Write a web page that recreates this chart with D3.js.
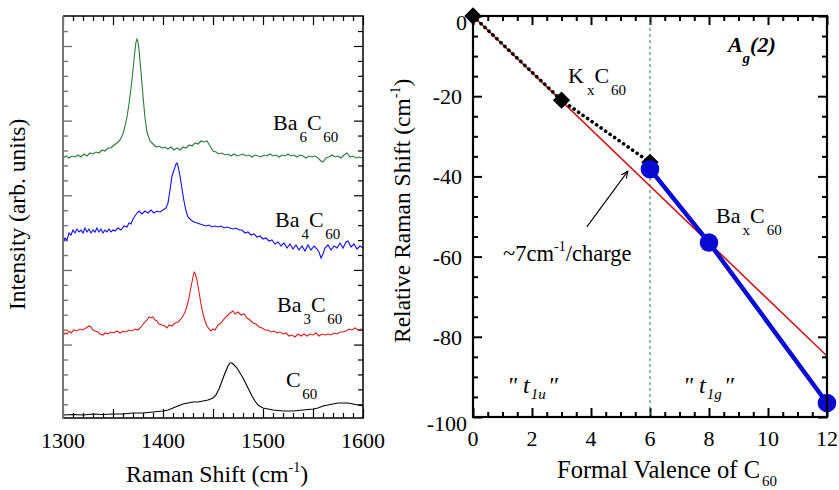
<!DOCTYPE html>
<html>
<head>
<meta charset="utf-8">
<script src="https://cdn.jsdelivr.net/npm/d3@7"></script>
<style>
  body { margin: 0; background: #fff; }
  text { font-family: "Liberation Serif", "Times New Roman", serif; fill: #000; }
</style>
</head>
<body>
<svg id="chart" width="839" height="490" font-family="Liberation Serif"></svg>
<script>
// ---- left panel: Raman spectra [shift cm-1, intensity arb. units] ----
const ba6c60 = [[1300,260],[1303,262],[1306,260],[1309,262],[1312,261],[1315,263],[1318,261],[1321,264],[1324,262],[1327,265],[1330,264],[1333,266],[1336,265],[1339,268],[1342,267],[1345,270],[1348,270],[1351,273],[1354,275],[1357,278],[1360,284],[1362,292],[1364,301],[1366,314],[1368,330],[1370,348],[1372,368],[1373,376],[1374,379],[1375,376],[1376,368],[1378,346],[1380,322],[1382,300],[1384,286],[1387,277],[1390,274],[1393,271],[1396,272],[1399,270],[1402,271],[1405,269],[1408,271],[1411,268],[1414,270],[1417,268],[1420,271],[1423,270],[1426,273],[1429,272],[1432,275],[1435,274],[1438,277],[1441,276],[1444,277],[1447,272],[1450,267],[1453,266],[1456,264],[1459,265],[1462,263],[1465,264],[1468,262],[1471,264],[1474,262],[1477,263],[1480,264],[1483,262],[1486,263],[1489,261],[1492,263],[1495,262],[1498,261],[1501,263],[1504,262],[1507,264],[1510,262],[1513,263],[1516,261],[1519,263],[1522,262],[1525,264],[1528,262],[1531,263],[1534,261],[1537,263],[1540,262],[1543,260],[1546,262],[1549,261],[1552,262],[1555,260],[1558,257],[1560,256],[1563,260],[1566,261],[1569,263],[1572,261],[1575,262],[1578,260],[1581,263],[1584,265],[1587,261],[1590,262],[1593,260],[1596,261],[1600,260]];

const ba4c60 = [[1300,175],[1302,180],[1304,178],[1306,185],[1308,183],[1310,188],[1312,185],[1314,189],[1316,186],[1318,188],[1320,185],[1322,190],[1324,186],[1326,189],[1328,185],[1330,188],[1332,186],[1334,190],[1336,186],[1338,189],[1340,185],[1342,188],[1344,186],[1346,189],[1348,186],[1350,188],[1352,187],[1355,190],[1358,188],[1361,192],[1364,191],[1366,195],[1368,194],[1370,199],[1372,202],[1374,205],[1376,207],[1379,204],[1382,207],[1385,205],[1388,208],[1391,205],[1394,207],[1397,206],[1400,208],[1403,210],[1405,215],[1407,228],[1409,242],[1411,248],[1413,254],[1414,255],[1415,252],[1417,242],[1419,229],[1421,217],[1423,207],[1425,201],[1428,198],[1431,196],[1434,195],[1437,194],[1440,193],[1443,192],[1446,193],[1449,191],[1452,192],[1455,191],[1458,192],[1461,190],[1464,191],[1467,190],[1470,189],[1473,190],[1476,188],[1479,188],[1482,185],[1485,186],[1488,183],[1491,184],[1494,181],[1497,182],[1500,179],[1503,180],[1506,177],[1509,178],[1512,174],[1515,176],[1518,172],[1521,175],[1524,170],[1527,174],[1530,169],[1533,173],[1536,168],[1539,172],[1542,167],[1545,173],[1548,168],[1551,172],[1554,169],[1556,166],[1558,160],[1560,164],[1562,170],[1565,173],[1568,168],[1571,172],[1574,170],[1577,175],[1580,170],[1583,176],[1585,177],[1588,171],[1591,174],[1594,169],[1597,172],[1600,170]];

const ba3c60 = [[1300,82],[1302,85],[1304,84],[1306,87],[1308,85],[1311,88],[1314,87],[1317,89],[1320,88],[1323,90],[1326,92],[1328,91],[1330,88],[1332,87],[1335,86],[1337,84],[1340,83],[1342,85],[1345,84],[1348,86],[1351,85],[1354,87],[1357,85],[1360,87],[1363,86],[1366,88],[1369,87],[1372,89],[1375,88],[1378,91],[1381,95],[1384,98],[1386,101],[1388,100],[1390,101],[1392,98],[1394,97],[1396,94],[1399,93],[1402,92],[1404,90],[1406,93],[1409,92],[1412,95],[1415,96],[1418,99],[1420,102],[1422,106],[1424,112],[1426,120],[1428,131],[1430,141],[1431,146],[1432,145],[1434,138],[1436,126],[1438,114],[1440,104],[1442,97],[1444,92],[1446,89],[1448,87],[1450,89],[1452,88],[1455,93],[1458,95],[1461,99],[1464,102],[1467,105],[1470,107],[1472,104],[1475,106],[1478,103],[1481,104],[1484,100],[1487,98],[1490,95],[1493,94],[1496,91],[1499,90],[1502,88],[1505,88],[1508,86],[1511,87],[1514,85],[1517,86],[1520,84],[1523,85],[1526,82],[1529,83],[1532,81],[1535,84],[1538,82],[1541,84],[1544,82],[1547,84],[1550,83],[1553,85],[1556,82],[1559,84],[1562,83],[1565,84],[1568,83],[1571,85],[1574,84],[1577,86],[1580,86],[1583,87],[1586,89],[1589,88],[1592,90],[1595,88],[1598,89],[1600,88]];

const c60 = [[1300,3],[1310,3.5],[1320,3],[1330,4],[1340,3.5],[1350,4],[1360,4],[1370,5],[1380,5],[1390,6],[1400,7],[1405,8],[1410,10],[1415,12],[1420,14],[1425,15],[1430,16],[1435,16],[1440,17],[1445,18],[1450,20],[1453,23],[1456,29],[1459,37],[1462,45],[1465,52],[1467,55],[1469,55],[1471,53],[1474,50],[1477,45],[1480,40],[1483,34],[1486,28],[1489,22],[1492,17],[1495,13],[1500,10],[1505,9],[1510,8],[1520,7],[1530,7],[1540,8],[1550,9],[1555,10],[1560,12],[1565,13],[1570,14],[1575,15],[1580,15],[1585,15],[1590,14],[1595,13],[1600,12]];

const shiftTicks = [1300, 1400, 1500, 1600];

// ---- right panel: relative shift vs formal valence ----
const valenceK = [0, 3, 6];
const shiftK = [0, -21, -36.5];
const valenceBa = [6, 8, 12];
const shiftBa = [-38.2, -56.5, -96.5];
const fitValence = [0, 12];
const fitShift = [0, -84.8];
const valenceTicks = [0, 2, 4, 6, 8, 10, 12];
const relShiftTicks = [0, -20, -40, -60, -80, -100];

const svg = d3.select("#chart");

function inTicks(axisFn, scale, values, size, transform, color, width) {
  svg.append("g").attr("transform", transform)
    .call(axisFn(scale).tickValues(values).tickSize(-size).tickFormat(""))
    .call(a => a.select(".domain").remove())
    .call(a => a.selectAll("line").attr("stroke", color).attr("stroke-width", width));
}

// ================= LEFT PANEL =================
const L = { left: 63, right: 363, top: 16, bottom: 418 };
const xL = d3.scaleLinear().domain([1300, 1600]).range([L.left, L.right]);
const yL = d3.scaleLinear().domain([0, 402]).range([L.bottom, L.top]);

const xMinor = d3.range(1300, 1601, 10).filter(v => v % 50 !== 0);
const xMajor = d3.range(1300, 1601, 50);
const yAll = d3.range(26).map(k => 13.7 + k * 14.93);
const yMinor = yAll.filter((v, k) => k % 5 !== 4);
const yMajor = yAll.filter((v, k) => k % 5 === 4);

inTicks(d3.axisBottom, xL, xMinor, 5, `translate(0,${L.bottom})`, "#000", 1.2);
inTicks(d3.axisBottom, xL, xMajor, 9, `translate(0,${L.bottom})`, "#000", 1.2);
inTicks(d3.axisTop, xL, xMinor, 5, `translate(0,${L.top})`, "#000", 1.2);
inTicks(d3.axisTop, xL, xMajor, 9, `translate(0,${L.top})`, "#000", 1.2);
inTicks(d3.axisLeft, yL, yMinor, 5, `translate(${L.left},0)`, "#777", 1.4);
inTicks(d3.axisLeft, yL, yMajor, 9, `translate(${L.left},0)`, "#777", 1.4);
inTicks(d3.axisRight, yL, yMinor, 5, `translate(${L.right},0)`, "#000", 1.2);
inTicks(d3.axisRight, yL, yMajor, 9, `translate(${L.right},0)`, "#000", 1.2);

const lineL = d3.line().x(d => xL(d[0])).y(d => yL(d[1]));
const spectra = [
  { data: c60, color: "#000000" },
  { data: ba3c60, color: "#d62020" },
  { data: ba4c60, color: "#1010f0" },
  { data: ba6c60, color: "#2b7a3c" }
];
svg.append("g").selectAll("path").data(spectra).join("path")
  .attr("d", d => lineL(d.data))
  .attr("fill", "none")
  .attr("stroke", d => d.color)
  .attr("stroke-width", 1.1);

// frame
svg.append("path")
  .attr("d", `M${L.left},${L.top}H${L.right}V${L.bottom}H${L.left}`)
  .attr("fill", "none").attr("stroke", "#000").attr("stroke-width", 1.5);
svg.append("line")
  .attr("x1", L.left).attr("x2", L.left).attr("y1", L.top).attr("y2", L.bottom + 0.75)
  .attr("stroke", "#777").attr("stroke-width", 2);

svg.append("g").selectAll("text").data(shiftTicks).join("text")
  .attr("x", d => xL(d)).attr("y", 448)
  .attr("text-anchor", "middle").attr("font-size", 22)
  .text(d => d);

// compound labels
const specLabels = [
  { x: 1510, y: 288, pre: "Ba", n: "6" },
  { x: 1512, y: 191, pre: "Ba", n: "4" },
  { x: 1514, y: 106, pre: "Ba", n: "3" },
  { x: 1523, y: 31, pre: "", n: "" }
];
specLabels.forEach(l => {
  const t = svg.append("text").attr("x", xL(l.x)).attr("y", yL(l.y)).attr("font-size", 22);
  if (l.pre) {
    t.append("tspan").text(l.pre);
    t.append("tspan").attr("font-size", 15).attr("dx", 2).attr("dy", 12).text(l.n);
    t.append("tspan").attr("dy", -12).text("C");
  } else {
    t.append("tspan").text("C");
  }
  t.append("tspan").attr("font-size", 15).attr("dx", 1.5).attr("dy", 12).text("60");
});

// axis titles
const tL = svg.append("text").attr("x", 126).attr("y", 482).attr("font-size", 23.8);
tL.append("tspan").text("Raman Shift (cm");
tL.append("tspan").attr("font-size", 14).attr("dy", -10).text("-1");
tL.append("tspan").attr("dy", 10).text(")");

svg.append("text").attr("transform", "translate(25,310) rotate(-90)")
  .attr("font-size", 23.5).text("Intensity (arb. units)");

// ================= RIGHT PANEL =================
const R = { left: 473, right: 827, top: 16, bottom: 417 };
const xR = d3.scaleLinear().domain([0, 12]).range([R.left, R.right]);
const yR = d3.scaleLinear().domain([-100, 0]).range([R.bottom, R.top]);

const vMinor = d3.range(0, 12.01, 0.5).filter(v => v % 2 !== 0);
const sMinor = d3.range(-100, 0.01, 5).filter(v => v % 20 !== 0);
inTicks(d3.axisBottom, xR, vMinor, 5, `translate(0,${R.bottom})`, "#000", 2);
inTicks(d3.axisBottom, xR, valenceTicks, 9, `translate(0,${R.bottom})`, "#000", 2);
inTicks(d3.axisTop, xR, vMinor, 5, `translate(0,${R.top})`, "#000", 2);
inTicks(d3.axisTop, xR, valenceTicks, 9, `translate(0,${R.top})`, "#000", 2);
inTicks(d3.axisLeft, yR, sMinor, 5, `translate(${R.left},0)`, "#000", 2);
inTicks(d3.axisLeft, yR, relShiftTicks, 9, `translate(${R.left},0)`, "#000", 2);
inTicks(d3.axisRight, yR, sMinor, 5, `translate(${R.right},0)`, "#000", 2);
inTicks(d3.axisRight, yR, relShiftTicks, 9, `translate(${R.right},0)`, "#000", 2);

// band boundary
svg.append("line")
  .attr("x1", xR(6)).attr("x2", xR(6)).attr("y1", yR(0)).attr("y2", yR(-100))
  .attr("stroke", "#5b8f6c").attr("stroke-width", 1.2).attr("stroke-dasharray", "3,3");

const lineR = d3.line().x(d => xR(d[0])).y(d => yR(d[1]));
const fitPts = d3.zip(fitValence, fitShift);
const kPts = d3.zip(valenceK, shiftK);
const baPts = d3.zip(valenceBa, shiftBa);

svg.append("path").attr("d", lineR(fitPts))
  .attr("fill", "none").attr("stroke", "#cc1a1a").attr("stroke-width", 1.6);
svg.append("path").attr("d", lineR(kPts))
  .attr("fill", "none").attr("stroke", "#000").attr("stroke-width", 3.6)
  .attr("stroke-linecap", "round").attr("stroke-dasharray", "0.1,5.4");
svg.append("g").selectAll("path").data(kPts).join("path")
  .attr("d", d3.symbol(d3.symbolSquare, 150)())
  .attr("transform", d => `translate(${xR(d[0])},${yR(d[1])}) rotate(45)`)
  .attr("fill", "#000");
svg.append("path").attr("d", lineR(baPts))
  .attr("fill", "none").attr("stroke", "#0a0ad2").attr("stroke-width", 4.5);
svg.append("g").selectAll("circle").data(baPts).join("circle")
  .attr("cx", d => xR(d[0])).attr("cy", d => yR(d[1])).attr("r", 9.3)
  .attr("fill", "#0a0ad2");

// frame
svg.append("rect")
  .attr("x", R.left).attr("y", R.top)
  .attr("width", R.right - R.left).attr("height", R.bottom - R.top)
  .attr("fill", "none").attr("stroke", "#000").attr("stroke-width", 2.2);

// tick labels
svg.append("g").selectAll("text").data(valenceTicks).join("text")
  .attr("x", d => xR(d)).attr("y", 446)
  .attr("text-anchor", "middle").attr("font-size", 22)
  .text(d => d);
svg.append("g").selectAll("text").data(relShiftTicks).join("text")
  .attr("x", d => (d === 0 || d === -100) ? R.left - 6 : R.left - 11)
  .attr("y", d => yR(d) + ((d === 0 || d === -100) ? 13.5 : 8))
  .attr("text-anchor", "end").attr("font-size", 22)
  .text(d => d);

// annotations
const kLab = svg.append("text").attr("x", xR(3.22)).attr("y", yR(-16.7)).attr("font-size", 22);
kLab.append("tspan").text("K");
kLab.append("tspan").attr("font-size", 15).attr("dx", 3).attr("dy", 12).text("x");
kLab.append("tspan").attr("dy", -12).text("C");
kLab.append("tspan").attr("font-size", 15).attr("dx", 2).attr("dy", 12).text("60");

const bLab = svg.append("text").attr("x", xR(8.24)).attr("y", yR(-51.6)).attr("font-size", 22);
bLab.append("tspan").text("Ba");
bLab.append("tspan").attr("font-size", 15).attr("dx", 2).attr("dy", 12).text("x");
bLab.append("tspan").attr("dy", -12).text("C");
bLab.append("tspan").attr("font-size", 15).attr("dx", 2).attr("dy", 12).text("60");

const slope = svg.append("text").attr("x", xR(1.02)).attr("y", yR(-61.1)).attr("font-size", 22.5);
slope.append("tspan").text("~7cm");
slope.append("tspan").attr("font-size", 14).attr("dy", -10).text("-1");
slope.append("tspan").attr("dy", 10).text("/charge");

const ag = svg.append("text").attr("x", xR(8.64)).attr("y", yR(-9))
  .attr("font-size", 22).attr("font-weight", "bold").attr("font-style", "italic");
ag.append("tspan").text("A");
ag.append("tspan").attr("font-size", 15).attr("dx", 0).attr("dy", 11).text("g");
ag.append("tspan").attr("dy", -11).attr("dx", 0).text("(2)");

svg.append("defs").append("marker")
  .attr("id", "arr").attr("viewBox", "0 0 10 10").attr("refX", 9).attr("refY", 5)
  .attr("markerWidth", 7).attr("markerHeight", 7).attr("orient", "auto")
  .append("path").attr("d", "M0,1L9,5L0,9").attr("fill", "none").attr("stroke", "#000").attr("stroke-width", 1.4);
svg.append("line")
  .attr("x1", xR(3.86)).attr("y1", yR(-52.6)).attr("x2", xR(5.25)).attr("y2", yR(-38.7))
  .attr("stroke", "#000").attr("stroke-width", 1.1).attr("marker-end", "url(#arr)");

[{ v: 1.15, sub: "1u" }, { v: 7.12, sub: "1g" }].forEach(b => {
  const t = svg.append("text").attr("x", xR(b.v)).attr("y", yR(-94)).attr("font-size", 24)
    .attr("font-style", "italic");
  t.append("tspan").text("\" t");
  t.append("tspan").attr("font-size", 15).attr("dx", 1).attr("dy", 6).text(b.sub);
  t.append("tspan").attr("dy", -6).attr("dx", 2).text("\"");
});

// axis titles
const tR = svg.append("text").attr("x", 557).attr("y", 478).attr("font-size", 24.5);
tR.append("tspan").text("Formal Valence of C");
tR.append("tspan").attr("font-size", 15).attr("dx", 2).attr("dy", 8).text("60");

const tY = svg.append("text").attr("transform", "translate(410,343) rotate(-90)").attr("font-size", 23.5);
tY.append("tspan").text("Relative Raman Shift (cm");
tY.append("tspan").attr("font-size", 14).attr("dy", -10).text("-1");
tY.append("tspan").attr("dy", 10).text(")");
</script>
</body>
</html>
